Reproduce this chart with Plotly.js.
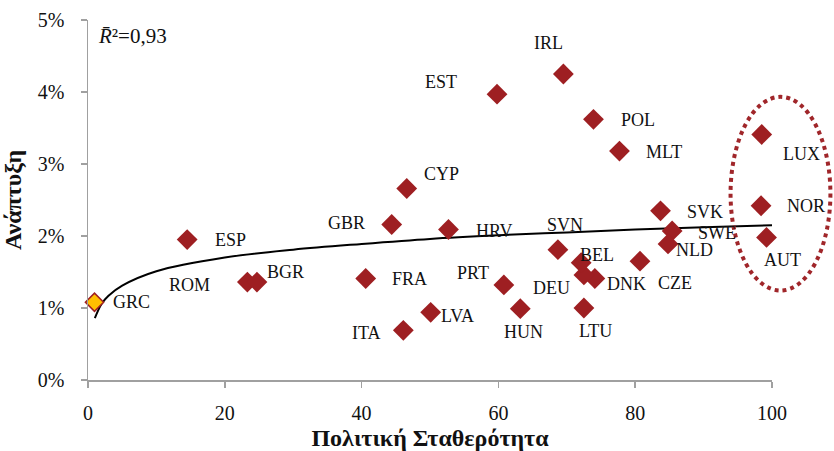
<!DOCTYPE html>
<html>
<head>
<meta charset="utf-8">
<script src="https://cdn.plot.ly/plotly-3.0.1.min.js"></script>
<style>html,body{margin:0;padding:0;background:#fff;}#chart{width:834px;height:451px;}</style>
</head>
<body>
<div id="chart"></div>
<script>
// Countries (ISO codes as printed)
const countries = ["ESP","ROM","BGR","GBR","HRV","CYP","EST","IRL","POL","MLT","LUX","NOR","AUT","SVK","SWE","NLD","CZE","DNK","DEU","BEL","SVN","PRT","HUN","LTU","FRA","LVA","ITA"];
// Political stability (x)
const stability = [14.5,23.3,24.7,44.4,52.7,46.6,59.8,69.5,73.9,77.7,98.5,98.4,99.2,83.7,85.4,84.8,80.7,74.1,72.5,72.1,68.7,60.8,63.2,72.5,40.6,50.1,46.1];
// Growth in % (y)
const growth = [1.95,1.36,1.36,2.16,2.09,2.66,3.97,4.25,3.62,3.18,3.41,2.42,1.98,2.35,2.07,1.89,1.65,1.41,1.46,1.63,1.81,1.32,0.99,1.0,1.41,0.94,0.69];

// Greece highlighted
const grcName = ["GRC"];
const grcX = [0.95];
const grcY = [1.08];

// Logarithmic trend line
const trendX = [1,2,3,5,10,20,30,40,50,60,70,80,90,100];
const trendY = [0.86,1.06,1.17,1.31,1.51,1.70,1.81,1.89,1.96,2.01,2.05,2.09,2.12,2.15];

const rLabel = "<i>R̄</i>²=0,93";
const xTitle = "Πολιτική Σταθερότητα";
const yTitle = "Ανάπτυξη";
const xTicks = [0,20,40,60,80,100];
const yTicks = [0,1,2,3,4,5];
const yTickText = ["0%","1%","2%","3%","4%","5%"];

// Label offsets in pixels (dx, dy up)
const labelOffsets = {
  ESP:[43,0], ROM:[-58,-3], BGR:[29,10], GBR:[-45,1], HRV:[46,-1], CYP:[35,14],
  EST:[-56,12], IRL:[-15,31], POL:[45,-1], MLT:[45,-1], LUX:[40,-20], NOR:[45,0],
  AUT:[16,-23], SVK:[44,-1], SWE:[45,-2], NLD:[26,-6], CZE:[35,-22], DNK:[32,-6],
  DEU:[-32,-13], BEL:[16,8], SVN:[7,25], PRT:[-31,12], HUN:[3,-23], LTU:[12,-23],
  FRA:[44,-1], LVA:[27,-4], ITA:[-37,-3], GRC:[37,0]
};

const red = "#9E1F22";
const font = "Liberation Serif, Times New Roman, serif";

const traces = [
  {x: trendX, y: trendY, mode: "lines", line: {color: "#000", width: 2, shape: "spline"}, hoverinfo: "skip"},
  {x: stability, y: growth, mode: "markers", text: countries,
   marker: {symbol: "diamond", size: 16, color: red, line: {width: 0}}, cliponaxis: false},
  {x: grcX, y: grcY, mode: "markers", text: grcName,
   marker: {symbol: "diamond", size: 14, color: "#FFC000", line: {width: 1.5, color: red}}, cliponaxis: false}
];

const annotations = [];
countries.forEach((c, i) => {
  const o = labelOffsets[c];
  annotations.push({x: stability[i], y: growth[i], text: c, showarrow: false,
    xshift: o[0], yshift: o[1], xanchor: "center", yanchor: "middle",
    font: {family: font, size: 18, color: "#111"}});
});
grcName.forEach((c, i) => {
  const o = labelOffsets[c];
  annotations.push({x: grcX[i], y: grcY[i], text: c, showarrow: false,
    xshift: o[0], yshift: o[1], xanchor: "center", yanchor: "middle",
    font: {family: font, size: 18, color: "#111"}});
});
annotations.push({xref: "paper", yref: "paper", x: 0.012, y: 0.955, xanchor: "left", yanchor: "middle",
  text: rLabel, showarrow: false, font: {family: font, size: 21, color: "#111"}});

const layout = {
  width: 834, height: 451,
  margin: {l: 88, r: 62, t: 20, b: 71},
  paper_bgcolor: "#fff", plot_bgcolor: "#fff",
  showlegend: false,
  font: {family: font, color: "#111"},
  xaxis: {range: [0, 100], tickvals: xTicks, showgrid: false, zeroline: false,
    showline: true, linecolor: "#a0a0a0", linewidth: 1.5,
    ticks: "outside", ticklen: 6, tickwidth: 1.5, tickcolor: "#a0a0a0",
    ticklabelstandoff: 8,
    tickfont: {family: font, size: 20, color: "#111"},
    title: {text: "<b>" + xTitle + "</b>", font: {family: font, size: 24, color: "#111"}, standoff: 10}},
  yaxis: {range: [0, 5], tickvals: yTicks, ticktext: yTickText, showgrid: false, zeroline: false,
    showline: true, linecolor: "#a0a0a0", linewidth: 1.5,
    ticks: "outside", ticklen: 6, tickwidth: 1.5, tickcolor: "#a0a0a0",
    ticklabelstandoff: 12,
    tickfont: {family: font, size: 20, color: "#111"},
    title: {text: "<b>" + yTitle + "</b>", font: {family: font, size: 24, color: "#111"}, standoff: 10}},
  shapes: [{type: "circle", xref: "paper", yref: "paper",
    x0: 0.9394, x1: 1.0854, y0: 0.2485, y1: 0.7865,
    line: {color: "#A0262A", width: 4, dash: "dot"}, layer: "above"}],
  annotations: annotations
};

Plotly.newPlot("chart", traces, layout, {displayModeBar: false, staticPlot: true});
</script>
</body>
</html>
